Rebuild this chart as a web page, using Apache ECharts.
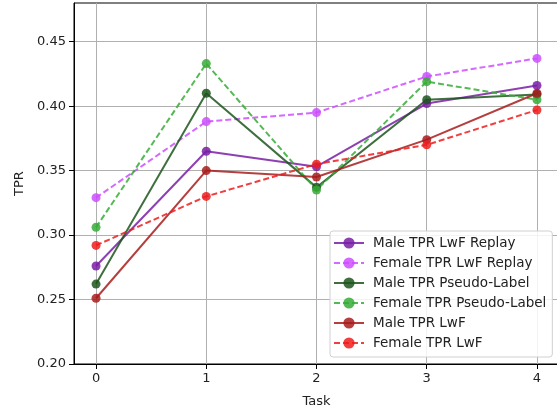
<!DOCTYPE html>
<html><head><meta charset="utf-8">
<script src="https://cdn.jsdelivr.net/npm/echarts@6/dist/echarts.min.js"></script>
<style>html,body{margin:0;padding:0;background:#fff}#c{width:557px;height:410px}</style>
</head><body><div id="c"></div>
<script>
const tasks = [0, 1, 2, 3, 4];
const xTicks = [0, 1, 2, 3, 4];
const yTicks = [0.20, 0.25, 0.30, 0.35, 0.40, 0.45];
const maleLwfReplay = [0.276, 0.365, 0.353, 0.402, 0.416];
const femaleLwfReplay = [0.329, 0.388, 0.395, 0.423, 0.437];
const malePseudo = [0.262, 0.410, 0.337, 0.405, 0.409];
const femalePseudo = [0.306, 0.433, 0.335, 0.419, 0.405];
const maleLwf = [0.251, 0.350, 0.345, 0.374, 0.410];
const femaleLwf = [0.292, 0.330, 0.355, 0.370, 0.397];

const seriesDefs = [
  {name: 'Male TPR LwF Replay', data: maleLwfReplay, color: '#7a1fa6', dash: false},
  {name: 'Female TPR LwF Replay', data: femaleLwfReplay, color: '#cc4dff', dash: true},
  {name: 'Male TPR Pseudo-Label', data: malePseudo, color: '#1d561d', dash: false},
  {name: 'Female TPR Pseudo-Label', data: femalePseudo, color: '#36ac36', dash: true},
  {name: 'Male TPR LwF', data: maleLwf, color: '#a81c1c', dash: false},
  {name: 'Female TPR LwF', data: femaleLwf, color: '#ee1c1c', dash: true}
];

const font = 'DejaVu Sans';
const chart = echarts.init(document.getElementById('c'), null, {renderer: 'canvas'});
chart.setOption({
  animation: false,
  grid: {left: 74, top: 3, width: 485, height: 361, outerBoundsMode: 'none', containLabel: false,
         show: true, borderColor: '#000', borderWidth: 1, backgroundColor: 'transparent'},
  xAxis: {
    type: 'value', min: -0.2, max: 4.2,
    name: 'Task', nameLocation: 'middle', nameGap: 31,
    nameTextStyle: {fontFamily: font, fontSize: 13, color: '#222'},
    axisLine: {show: true, onZero: false, lineStyle: {color: '#000', width: 1}},
    axisTick: {show: true, length: 5, customValues: xTicks, lineStyle: {color: '#000'}},
    axisLabel: {customValues: xTicks, margin: 8, fontFamily: font, fontSize: 13, color: '#222', formatter: v => String(v)},
    splitLine: {show: true, lineStyle: {color: '#b0b0b0', width: 1}}
  },
  yAxis: {
    type: 'value', min: 0.2, max: 0.48,
    name: 'TPR', nameLocation: 'middle', nameGap: 44,
    nameTextStyle: {fontFamily: font, fontSize: 13, color: '#222'},
    axisLine: {show: true, onZero: false, lineStyle: {color: '#000', width: 1}},
    axisTick: {show: true, length: 5, customValues: yTicks, lineStyle: {color: '#000'}},
    axisLabel: {customValues: yTicks, margin: 8, fontFamily: font, fontSize: 13, color: '#222', formatter: v => v.toFixed(2)},
    splitLine: {show: true, lineStyle: {color: '#b0b0b0', width: 1}}
  },
  legend: {
    orient: 'vertical', left: 330, top: 231,
    padding: [5, 6, 7, 3], itemGap: 6, itemWidth: 30, itemHeight: 14,
    backgroundColor: 'rgba(255,255,255,0.85)', borderColor: '#d0d0d0', borderWidth: 1, borderRadius: 3,
    textStyle: {fontFamily: font, fontSize: 13.5, color: '#222', padding: [0, 0, 0, 4]},
    data: seriesDefs.map(s => s.name)
  },
  series: seriesDefs.map(s => ({
    name: s.name, type: 'line',
    data: tasks.map((t, i) => [t, s.data[i]]),
    symbol: 'circle', symbolSize: 9,
    lineStyle: {color: s.color, width: 2, type: s.dash ? [6, 3] : 'solid', opacity: 0.85},
    itemStyle: {color: s.color, opacity: 0.85},
    emphasis: {disabled: true}
  }))
});
</script></body></html>
